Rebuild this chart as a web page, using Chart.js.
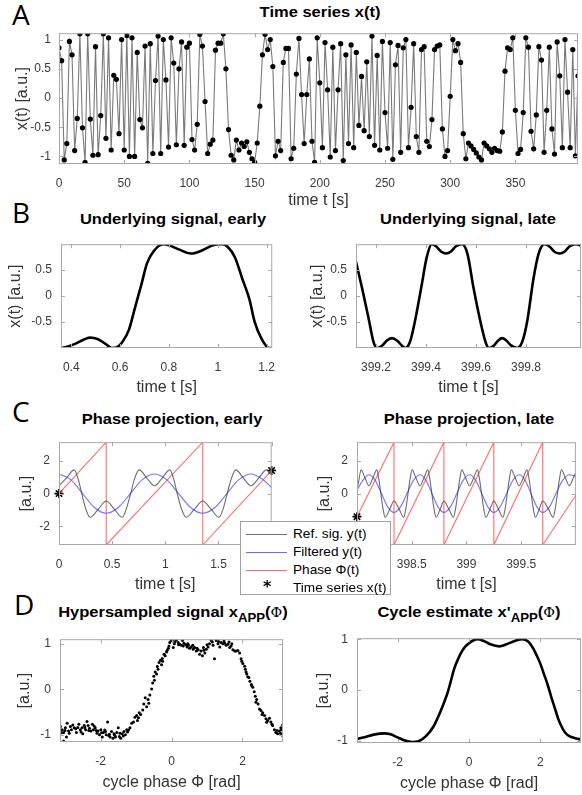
<!DOCTYPE html>
<html>
<head>
<meta charset="utf-8">
<script src="https://cdn.jsdelivr.net/npm/chart.js@4.4.1/dist/chart.umd.min.js"></script>
<style>
  body { margin: 0; background: #fff; width: 582px; height: 795px; overflow: hidden; position: relative;
         font-family: "Liberation Sans", Arial, sans-serif; }
  canvas { position: absolute; }
  .letter { position: absolute; font-family: "Open Sans", sans-serif; font-size: 28px; line-height: 28px; color: #000; }
  .ttl { position: absolute; font-weight: bold; font-size: 15px; line-height: 15px; white-space: nowrap;
         transform: translateX(-50%) scaleX(1.1); color: #000; }
  .ttl sub { font-size: 12px; vertical-align: -5px; line-height: 0; }
  .phi { font-family: "DejaVu Serif", serif; font-weight: normal; font-size: 13px; }
  #legend { position: absolute; left: 240px; top: 521px; width: 149px; height: 72px; background: #fff;
            border: 1px solid #a0a0a0; z-index: 5; font-size: 13px; color: #000; }
  #legend .row { position: absolute; left: 0; height: 16px; line-height: 16px; width: 149px; }
  #legend .smp { position: absolute; left: 5px; top: 8px; width: 41px; height: 0; border-top: 1px solid; }
  #legend .txt { position: absolute; left: 52px; top: 0; white-space: nowrap; transform: scaleX(1.05);
                 transform-origin: left center; }
  #legend .star { position: absolute; left: 22px; top: -1px; font-family: "DejaVu Sans", sans-serif; font-weight: bold; font-size: 16px; }
</style>
</head>
<body>
<div class="letter" style="left:12px;top:0px">A</div>
<div class="letter" style="left:12px;top:198px">B</div>
<div class="letter" style="left:12px;top:397px">C</div>
<div class="letter" style="left:14px;top:590px">D</div>

<div class="ttl" style="left:320px;top:4px">Time series x(t)</div>
<div class="ttl" style="left:173px;top:211px">Underlying signal, early</div>
<div class="ttl" style="left:468px;top:211px">Underlying signal, late</div>
<div class="ttl" style="left:172px;top:411px">Phase projection, early</div>
<div class="ttl" style="left:469px;top:411px">Phase projection, late</div>
<div class="ttl" style="left:173px;top:604px">Hypersampled signal x<sub>APP</sub>(<span class="phi">Φ</span>)</div>
<div class="ttl" style="left:469px;top:604px">Cycle estimate x'<sub>APP</sub>(<span class="phi">Φ</span>)</div>

<canvas id="cA"></canvas>
<canvas id="cB1"></canvas>
<canvas id="cB2"></canvas>
<canvas id="cC1"></canvas>
<canvas id="cC2"></canvas>
<canvas id="cD1"></canvas>
<canvas id="cD2"></canvas>

<div id="legend">
  <div class="row" style="top:4px"><span class="smp" style="border-color:#707070"></span><span class="txt">Ref. sig. y(t)</span></div>
  <div class="row" style="top:22px"><span class="smp" style="border-color:#6a6aff"></span><span class="txt">Filtered y(t)</span></div>
  <div class="row" style="top:40px"><span class="smp" style="border-color:#ff6a6a"></span><span class="txt">Phase Φ(t)</span></div>
  <div class="row" style="top:58px"><span class="star">*</span><span class="txt">Time series x(t)</span></div>
</div>

<script>
// ---- Panel A: time series, one sample every 2 s ----
const sampleStep = 2;
const seriesX = [
  0.86, 0.64, -1.06, -0.78, 0.97, 0.74, -0.90, -0.35, 1.10, -0.51,
  -1.10, 1.10, -0.36, -0.98, 0.88, -0.97, -0.30, 1.10, -0.69, 1.03,
  -0.89, 0.39, 0.32, -0.61, 1.00, -0.89, 1.07, -1.00, 1.03, -1.00,
  0.78, -0.37, -0.51, 0.89, -1.12, 0.93, -0.95, 0.30, 1.06, -0.95,
  1.00, 0.31, -0.84, 1.03, 0.60, -0.80, 0.50, 0.96, -0.81, 0.87,
  0.94, -0.71, -0.89, -0.45, 1.09, 0.89, -0.06, -0.95, -0.79, -0.72,
  0.82, 0.94, 0.94, 1.10, 0.50, -0.54, -0.98, -1.06, -0.72, -0.89,
  -0.77, -0.83, -0.75, -0.93, -1.04, -1.10, -0.77, -0.14, 0.74, 1.09,
  0.83, 1.00, 0.54, -0.99, -0.74, -0.90, 0.61, 0.85, 0.85, -1.04,
  -0.86, 0.41, 1.02, 0.06, -0.78, 0.06, 0.67, -0.74, -1.10,
  1.03, 0.26, -0.85, 0.95, 0.14, -1.01, 0.87, -0.90, 0.14, 0.93,
  -1.07, 0.74, -0.78, 0.91, -0.85, 0.78, -0.47, 0.37, -0.56, 0.62,
  -0.66, 1.06, -0.81, 0.73, -0.89, 0.97, -0.25, -0.86, 0.95, -1.05,
  0.57, 0.90, -0.93, 0.86, 1.00, -0.85, -0.16, 0.93, -0.66, -0.93,
  0.83, 0.88, -0.74, -0.83, -0.37, 0.83, 0.89, 0.91, -0.53, -1.00,
  -0.90, 0.03, 1.00, 0.81, 0.93, 0.61, -0.61, -1.04, -0.77, -0.82,
  -0.88, -0.94, -1.01, -1.06, -0.77, -0.82, -0.87, -0.93, -0.86, -0.90,
  -0.91, -0.58, 0.46, 0.86, 0.83, 1.03, -0.21, -0.95, -0.88, -0.25,
  1.03, 0.87, -0.57, -0.87, -0.29, 0.88, 0.65, -0.93, -0.21, 0.87,
  -0.53, -0.96, 0.96, 0.38, -0.85, 1.00, 0.10, -0.85, 0.83, -0.99,
  0.38
];

// ---- Panel B: underlying signal ----
const earlyT = [0.358, 0.38, 0.42, 0.45, 0.476, 0.51, 0.54, 0.566, 0.585, 0.61, 0.636, 0.66, 0.687, 0.71,
  0.738, 0.776, 0.80, 0.84, 0.89, 0.93, 0.98, 1.018, 1.04, 1.07, 1.10, 1.13, 1.15, 1.18, 1.21, 1.223];
const earlyX = [-1.0, -0.98, -0.91, -0.84, -0.80, -0.83, -0.92, -1.0, -0.99, -0.88, -0.65, -0.24, 0.22, 0.63,
  0.87, 1.0, 0.98, 0.90, 0.82, 0.87, 0.98, 1.0, 0.95, 0.75, 0.34, -0.07, -0.48, -0.83, -1.0, -1.0];
const lateT = [399.12, 399.144, 399.17, 399.19, 399.205, 399.225, 399.245, 399.264, 399.285, 399.305, 399.317,
  399.336, 399.356, 399.383, 399.403, 399.423, 399.44, 399.46, 399.48, 399.50, 399.52, 399.544, 399.566, 399.59,
  399.62, 399.64, 399.652, 399.672, 399.69, 399.705, 399.72, 399.74, 399.765, 399.785, 399.805, 399.83, 399.85,
  399.874, 399.895, 399.915, 399.936, 399.955, 399.975, 400.0, 400.02];
const lateX = [0.66, 0.16, -0.42, -0.88, -1.0, -0.95, -0.85, -0.81, -0.86, -0.96, -1.0,
  -0.88, -0.48, 0.22, 0.75, 1.0, 0.96, 0.86, 0.82, 0.86, 0.96, 1.0, 0.81, 0.16,
  -0.54, -0.91, -1.0, -0.95, -0.85, -0.81, -0.85, -0.95, -1.0, -0.88, -0.48, 0.34, 0.81,
  1.0, 0.95, 0.85, 0.82, 0.86, 0.96, 1.0, 0.97];

// ---- Panel C: phase projection, early ----
const refEarlyT = [0, 0.07, 0.143, 0.18, 0.214, 0.25, 0.293, 0.37, 0.444, 0.52, 0.595, 0.635, 0.674, 0.71,
  0.754, 0.826, 0.898, 0.97, 1.042, 1.078, 1.112, 1.15, 1.196, 1.274, 1.352, 1.43, 1.505, 1.545, 1.582,
  1.62, 1.662, 1.734, 1.806, 1.878, 1.95, 2.0];
const refEarlyY = [0.48, 0.95, 1.45, 0.9, 0, -0.9, -1.45, -0.95, -0.45, -0.95, -1.45, -0.9, 0, 0.9,
  1.45, 0.95, 0.48, 0.95, 1.45, 0.9, 0, -0.9, -1.45, -0.95, -0.45, -0.95, -1.45, -0.9, 0,
  0.9, 1.45, 0.95, 0.48, 0.95, 1.45, 1.1];
const filtEarlyT = [0, 0.111, 0.222, 0.333, 0.444, 0.557, 0.671, 0.784, 0.898, 1.012, 1.125, 1.238, 1.352,
  1.466, 1.579, 1.692, 1.806, 1.92, 2.0];
const filtEarlyY = [1.2, 0.85, 0, -0.85, -1.2, -0.85, 0, 0.85, 1.2, 0.85, 0, -0.85, -1.2,
  -0.85, 0, 0.85, 1.2, 0.85, 0.35];
const phaseEarlyT = [0, 0.444, 0.444, 1.352, 1.352, 2.0];
const phaseEarlyY = [0, 3.1416, -3.1416, 3.1416, -3.1416, 1.41];
const sampEarlyT = [0, 2.0];
const sampEarlyY = [0, 1.41];

// ---- Panel C: phase projection, late ----
const refLateT = [398.0, 398.019, 398.037, 398.073, 398.109, 398.145, 398.181, 398.199, 398.218, 398.237, 398.257,
  398.299, 398.338, 398.385, 398.427, 398.447, 398.466, 398.485, 398.503, 398.539, 398.575, 398.611, 398.647,
  398.665, 398.684, 398.703, 398.723, 398.76, 398.794, 398.839, 398.881, 398.901, 398.92, 398.939, 398.957,
  398.993, 399.029, 399.065, 399.101, 399.119, 399.138, 399.157, 399.177, 399.215, 399.25, 399.292, 399.334,
  399.354, 399.373, 399.392, 399.41, 399.446, 399.482, 399.518, 399.554, 399.572, 399.591, 399.61, 399.63,
  399.665, 399.697, 399.75, 399.792, 399.812, 399.831, 399.85, 399.868, 399.904, 399.94, 399.976, 400.0];
const refLateY = [0.2, 0.9, 1.45, 0.95, 0.48, 0.95, 1.45, 0.9, 0, -0.9, -1.45,
  -0.95, -0.45, -0.95, -1.45, -0.9, 0, 0.9, 1.45, 0.95, 0.48, 0.95, 1.45,
  0.9, 0, -0.9, -1.45, -0.95, -0.45, -0.95, -1.45, -0.9, 0, 0.9, 1.45,
  0.95, 0.48, 0.95, 1.45, 0.9, 0, -0.9, -1.45, -0.95, -0.45, -0.95, -1.45,
  -0.9, 0, 0.9, 1.45, 0.95, 0.48, 0.95, 1.45, 0.9, 0, -0.9, -1.45,
  -0.95, -0.45, -0.95, -1.45, -0.9, 0, 0.9, 1.45, 0.95, 0.48, 0.95, 1.3];
const filtLateT = [398.0, 398.054, 398.109, 398.166, 398.224, 398.281, 398.338, 398.397, 398.457, 398.516, 398.575,
  398.63, 398.685, 398.74, 398.794, 398.853, 398.912, 398.97, 399.029, 399.085, 399.14, 399.195, 399.25, 399.308,
  399.366, 399.424, 399.482, 399.536, 399.59, 399.644, 399.697, 399.758, 399.818, 399.879, 399.94, 400.0];
const filtLateY = [0.2, 0.81, 1.15, 0.81, 0, -0.81, -1.15, -0.81, 0, 0.81, 1.15,
  0.81, 0, -0.81, -1.15, -0.81, 0, 0.81, 1.15, 0.81, 0, -0.81, -1.15, -0.81,
  0, 0.81, 1.15, 0.81, 0, -0.81, -1.15, -0.81, 0, 0.81, 1.15, 1.05];
const phaseLateT = [398.0, 398.338, 398.338, 398.794, 398.794, 399.25, 399.25, 399.697, 399.697, 400.0];
const phaseLateY = [-1.41, 3.1416, -3.1416, 3.1416, -3.1416, 3.1416, -3.1416, 3.1416, -3.1416, -0.1];
const sampLateT = [398.0];
const sampLateY = [-1.41];

// ---- Panel D: hypersampled signal and cycle estimate ----
const phiHyper = [
  -3.13, -3.08, -3.04, -2.99, -2.96, -2.94, -2.90, -2.85, -2.82, -2.78, -2.74, -2.68, -2.64, -2.61, -2.57,
  -2.52, -2.50, -2.46, -2.42, -2.38, -2.35, -2.31, -2.27, -2.23, -2.20, -2.15, -2.10, -2.07, -2.03, -1.99,
  -1.95, -1.92, -1.88, -1.84, -1.80, -1.77, -1.73, -1.69, -1.65, -1.62, -1.58, -1.54, -1.50, -1.47, -1.43,
  -1.39, -1.34, -1.30, -1.26, -1.21, -1.17, -3.04, -3.10, -3.00, -2.88, -2.70, -2.55, -2.44, -2.33, -2.18,
  -2.12, -1.97, -1.86, -1.75, -1.60, -1.45, -1.36, -1.24,
  -1.12, -1.07, -1.03, -0.98, -0.96, -0.91, -0.87, -0.81, -0.78, -0.74, -0.70, -0.66, -0.61, -0.56, -0.53,
  -0.50, -0.46, -0.42, -0.38, -0.35, -0.31, -0.28, -0.25, -0.21, -0.18, -0.14, -0.09, -0.07, -0.05, -0.01,
  0.03, 0.05, 0.08, -0.93, -0.64, -0.48, -0.40, -0.26, -0.12,
  0.14, 0.19, 0.23, 0.28, 0.31, 0.35, 0.40, 0.44, 0.48, 0.51, 0.56, 0.61, 0.65, 0.70, 0.75, 0.79, 0.83,
  0.87, 0.91, 0.94, 0.98, 1.03, 1.07, 1.12, 1.17, 1.21, 1.26, 1.31, 1.36, 1.40, 1.45, 1.50, 1.54, 1.59,
  1.64, 1.68, 1.73, 1.78, 1.82, 1.87, 1.92, 0.10, 0.20, 0.33, 0.46, 0.60, 0.72, 0.90, 1.00, 1.15, 1.33,
  1.48, 1.62, 1.70,
  1.96, 2.01, 2.06, 2.08, 2.12, 2.15, 2.18, 2.21, 2.25, 2.29, 2.33, 2.36, 2.40, 2.44, 2.48, 2.52, 2.57,
  2.62, 2.66, 2.71, 2.76, 2.80, 2.85, 2.90, 2.94, 2.99, 3.04, 3.08, 3.13, 1.98, 2.10, 2.26, 2.38, 2.55,
  2.68, 2.83, 2.97, 3.07, 3.12, 3.10
];
const xHyper = [
  -0.81, -0.88, -0.94, -0.84, -1.04, -0.74, -0.91, -0.81, -0.88, -0.78, -0.84, -0.94, -0.83, -0.76, -0.88,
  -0.84, -0.97, -0.79, -0.88, -0.70, -0.79, -0.85, -0.91, -0.76, -0.88, -0.84, -0.96, -0.91, -0.99, -0.88,
  -1.04, -0.94, -0.89, -0.99, -0.71, -1.01, -1.04, -0.92, -1.07, -0.97, -1.04, -0.94, -0.84, -1.03, -1.07,
  -0.97, -0.92, -0.99, -0.88, -0.89, -0.84, -1.13, -0.95, -0.90, -0.96, -0.86, -0.93, -0.83, -0.90, -0.80,
  -0.90, -0.95, -0.92, -0.98, -1.00, -0.96, -1.02, -0.93,
  -0.74, -0.71, -0.61, -0.57, -0.68, -0.51, -0.55, -0.45, -0.32, -0.18, -0.38, -0.22, -0.12, 0.01, 0.14,
  0.29, 0.38, 0.34, 0.44, 0.59, 0.64, 0.54, 0.62, 0.77, 0.74, 0.82, 0.90, 0.95, 1.03, 1.07,
  1.08, 0.92, 1.00, -0.62, -0.30, 0.20, 0.50, 0.68, 0.86,
  1.08, 1.03, 0.99, 0.97, 1.07, 1.01, 0.98, 0.93, 0.97, 0.90, 0.93, 0.88, 0.92, 0.84, 0.87, 0.77, 0.84,
  0.74, 0.86, 0.80, 0.88, 0.93, 1.00, 1.07, 0.97, 0.67, 1.07, 1.00, 0.93, 1.03, 1.00, 1.01, 0.97, 0.99,
  0.92, 0.95, 0.87, 0.84, 0.84, 0.85, 0.80, 1.05, 0.98, 0.95, 1.00, 0.97, 0.90, 0.92, 0.98, 1.04, 1.05,
  1.06, 1.04, 1.00,
  0.67, 0.57, 0.51, 0.44, 0.34, 0.28, 0.26, 0.18, 0.11, 0.05, -0.05, -0.15, -0.22, -0.32, -0.43, -0.46, -0.51,
  -0.57, -0.64, -0.68, -0.63, -0.71, -0.79, -0.88, -0.94, -0.97, -0.91, -0.84, -0.78, 0.62, 0.38, 0.08, -0.28, -0.55,
  -0.72, -0.76, -0.90, -0.96, -1.00, -0.88
];
const phiCycle = [-3.14, -2.9, -2.7, -2.5, -2.37, -2.2, -2.0, -1.8, -1.6, -1.4, -1.2, -1.0, -0.8, -0.6, -0.4,
  -0.3, -0.2, -0.1, 0, 0.1, 0.25, 0.4, 0.6, 0.85, 1.05, 1.3, 1.5, 1.65, 1.8, 1.9, 2.0, 2.1, 2.2, 2.3,
  2.4, 2.5, 2.6, 2.7, 2.8, 3.0, 3.14];
const xCycle = [-0.96, -0.92, -0.88, -0.855, -0.85, -0.87, -0.93, -0.99, -1.02, -1.0, -0.9, -0.72, -0.42, -0.05, 0.45,
  0.62, 0.76, 0.86, 0.92, 0.97, 1.0, 0.97, 0.9, 0.86, 0.9, 0.97, 1.0, 0.96, 0.82, 0.68, 0.52, 0.32, 0.12, -0.12,
  -0.34, -0.56, -0.72, -0.84, -0.9, -0.95, -0.97];

// ---- tick labels ----
const ticksA_x = [0, 50, 100, 150, 200, 250, 300, 350];
const ticksA_y = [-1, -0.5, 0, 0.5, 1];
const ticksB1_x = [0.4, 0.6, 0.8, 1, 1.2];
const ticksB2_x = [399.2, 399.4, 399.6, 399.8];
const ticksB_y = [-0.5, 0, 0.5];
const ticksC1_x = [0, 0.5, 1, 1.5, 2];
const ticksC2_x = [398, 398.5, 399, 399.5];
const ticksC_y = [-2, 0, 2];
const ticksD_x = [-2, 0, 2];
const ticksD_y = [-1, 0, 1];

const FONT = '"Liberation Sans", Arial, sans-serif';
const TICK_COLOR = '#3a3a3a';

function pts(xs, ys) {
  return xs.map((x, i) => ({ x: x, y: ys[i] }));
}

// box and inward tick marks, MATLAB style
const frame = {
  id: 'frame',
  afterDraw(chart) {
    const { ctx, chartArea: a, scales: { x, y } } = chart;
    ctx.save();
    ctx.strokeStyle = '#a8a8a8';
    ctx.lineWidth = 1;
    ctx.strokeRect(a.left + 0.5, a.top + 0.5, a.width - 1, a.height - 1);
    ctx.beginPath();
    x.ticks.forEach(t => {
      const p = Math.round(x.getPixelForValue(t.value)) + 0.5;
      ctx.moveTo(p, a.bottom); ctx.lineTo(p, a.bottom - 4);
      ctx.moveTo(p, a.top); ctx.lineTo(p, a.top + 4);
    });
    y.ticks.forEach(t => {
      const p = Math.round(y.getPixelForValue(t.value)) + 0.5;
      ctx.moveTo(a.left, p); ctx.lineTo(a.left + 4, p);
      ctx.moveTo(a.right, p); ctx.lineTo(a.right - 4, p);
    });
    ctx.stroke();
    ctx.restore();
  }
};

function panel(id, box, canvasLeft, o) {
  const yw = box.l - canvasLeft, topPad = 6, xh = 50;
  const cv = document.getElementById(id);
  cv.width = yw + (box.r - box.l) + 1;
  cv.height = topPad + (box.b - box.t) + xh;
  cv.style.left = canvasLeft + 'px';
  cv.style.top = (box.t - topPad) + 'px';
  return new Chart(cv, {
    type: o.type || 'line',
    data: { datasets: o.datasets },
    options: {
      responsive: false,
      animation: false,
      layout: { padding: { top: topPad, right: 1, left: 0, bottom: 0 } },
      plugins: { legend: { display: false }, tooltip: { enabled: false } },
      scales: {
        x: {
          type: 'linear', min: o.xMin, max: o.xMax,
          grid: { display: false, drawTicks: false }, border: { display: false },
          ticks: { padding: 12, color: TICK_COLOR, font: { size: 12, family: FONT }, maxRotation: 0,
                   autoSkip: false, callback: v => String(v) },
          afterBuildTicks: s => { s.ticks = o.xTicks.map(v => ({ value: v })); },
          afterFit: s => { s.height = xh; },
          title: { display: true, text: o.xTitle, color: '#333', font: { size: 16, family: FONT },
                   padding: { top: 0, bottom: o.xPad } }
        },
        y: {
          type: 'linear', min: o.yMin, max: o.yMax,
          grid: { display: false, drawTicks: false }, border: { display: false },
          ticks: { padding: o.yTickPad || 9, color: TICK_COLOR, font: { size: 12, family: FONT }, autoSkip: false,
                   callback: v => String(v) },
          afterBuildTicks: s => { s.ticks = o.yTicks.map(v => ({ value: v })); },
          afterFit: s => { s.width = yw; },
          title: { display: true, text: o.yTitle, color: '#333', font: { size: 16, family: FONT },
                   padding: { top: o.yPad, bottom: 0 } }
        }
      }
    },
    plugins: [frame]
  });
}

const thick = (xs, ys) => ({ data: pts(xs, ys), borderColor: '#000', borderWidth: 2.6, pointRadius: 0,
                              cubicInterpolationMode: 'monotone' });
const refLine = (xs, ys) => ({ data: pts(xs, ys), borderColor: 'rgba(60,60,60,0.75)', borderWidth: 1.1,
                               pointRadius: 0, cubicInterpolationMode: 'monotone' });
const filtLine = (xs, ys) => ({ data: pts(xs, ys), borderColor: 'rgba(80,80,255,0.8)', borderWidth: 1.1,
                                pointRadius: 0, cubicInterpolationMode: 'monotone' });
const phaseLine = (xs, ys) => ({ data: pts(xs, ys), borderColor: 'rgba(255,70,70,0.8)', borderWidth: 1.1,
                                 pointRadius: 0, tension: 0 });
const samples = (xs, ys) => ({ data: pts(xs, ys), showLine: false, pointStyle: 'star', pointRadius: 4.5,
                               borderColor: '#000', borderWidth: 1.6, clip: false });

// A
panel('cA', { l: 59, t: 24, r: 581, b: 164 }, 0, {
  datasets: [{
    data: seriesX.map((v, i) => ({ x: i * sampleStep, y: v })),
    borderColor: '#7a7a7a', borderWidth: 1.1, pointRadius: 2.6, pointBackgroundColor: '#000',
    pointBorderColor: '#000', pointBorderWidth: 0, tension: 0
  }],
  xMin: 0, xMax: 398, yMin: -1.13, yMax: 1.11, xTicks: ticksA_x, yTicks: ticksA_y,
  xTitle: 'time t [s]', yTitle: 'x(t) [a.u.]', xPad: 4, yPad: 13, yTickPad: 8
});

// B
panel('cB1', { l: 61, t: 234, r: 286, b: 348 }, 0, {
  datasets: [thick(earlyT, earlyX)],
  xMin: 0.358, xMax: 1.223, yMin: -1.0, yMax: 1.0, xTicks: ticksB1_x, yTicks: ticksB_y,
  xTitle: 'time t [s]', yTitle: 'x(t) [a.u.]', xPad: 1, yPad: 6
});
panel('cB2', { l: 356, t: 234, r: 581, b: 348 }, 290, {
  datasets: [thick(lateT, lateX)],
  xMin: 399.12, xMax: 400.02, yMin: -1.0, yMax: 1.0, xTicks: ticksB2_x, yTicks: ticksB_y,
  xTitle: 'time t [s]', yTitle: 'x(t) [a.u.]', xPad: 1, yPad: 18
});

// C
panel('cC1', { l: 59, t: 432, r: 286, b: 545 }, 0, {
  datasets: [refLine(refEarlyT, refEarlyY), filtLine(filtEarlyT, filtEarlyY),
             phaseLine(phaseEarlyT, phaseEarlyY), samples(sampEarlyT, sampEarlyY)],
  xMin: 0, xMax: 2, yMin: -3.1416, yMax: 3.1416, xTicks: ticksC1_x, yTicks: ticksC_y,
  xTitle: 'time t [s]', yTitle: '[a.u.]', xPad: 1, yPad: 17
});
panel('cC2', { l: 357, t: 432, r: 581, b: 545 }, 290, {
  datasets: [refLine(refLateT, refLateY), filtLine(filtLateT, filtLateY),
             phaseLine(phaseLateT, phaseLateY), samples(sampLateT, sampLateY)],
  xMin: 398, xMax: 400, yMin: -3.1416, yMax: 3.1416, xTicks: ticksC2_x, yTicks: ticksC_y,
  xTitle: 'time t [s]', yTitle: '[a.u.]', xPad: 1, yPad: 25
});

// D
panel('cD1', { l: 60, t: 629, r: 286, b: 742 }, 0, {
  type: 'scatter',
  datasets: [{ data: pts(phiHyper, xHyper), pointRadius: 1.5, pointBackgroundColor: '#000',
               pointBorderWidth: 0, showLine: false }],
  xMin: -3.1416, xMax: 3.1416, yMin: -1.15, yMax: 1.1, xTicks: ticksD_x, yTicks: ticksD_y,
  xTitle: 'cycle phase Φ [rad]', yTitle: '[a.u.]', xPad: 0, yPad: 15
});
panel('cD2', { l: 357, t: 628, r: 581, b: 743 }, 290, {
  datasets: [thick(phiCycle, xCycle)],
  xMin: -3.1416, xMax: 3.1416, yMin: -1.04, yMax: 1.02, xTicks: ticksD_x, yTicks: ticksD_y,
  xTitle: 'cycle phase Φ [rad]', yTitle: '[a.u.]', xPad: 0, yPad: 24
});
</script>
</body>
</html>
